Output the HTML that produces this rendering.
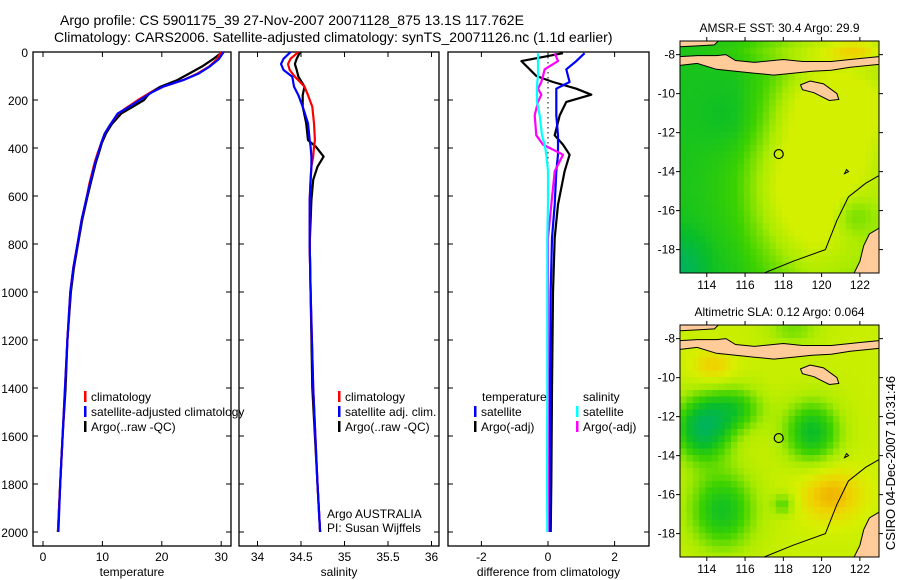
<!DOCTYPE html>
<html><head><meta charset="utf-8"><style>
body{margin:0;background:#fff;}
svg{display:block;font-family:"Liberation Sans",sans-serif;}
</style></head><body>
<svg id="fig" width="900" height="580" viewBox="0 0 900 580" xmlns="http://www.w3.org/2000/svg">
<rect width="900" height="580" fill="#fff"/>
<text x="60" y="25" font-size="14">Argo profile: CS 5901175_39 27-Nov-2007 20071128_875 13.1S 117.762E</text>
<text x="54" y="42" font-size="14">Climatology: CARS2006. Satellite-adjusted climatology: synTS_20071126.nc (1.1d earlier)</text>
<g id="p1"></g>
<g id="p2"></g>
<g id="p3"></g>
<g id="m1"></g>
<g id="m2"></g>
<text transform="translate(895,463) rotate(-90)" text-anchor="middle" font-size="13">CSIRO 04-Dec-2007 10:31:46</text>
</svg>
<script>
// ---- data ----
const tDepth = [0,30,60,90,117,144,170,200,230,256,300,339,380,422,460,500,550,600,700,800,900,1000,1200,1400,1600,1800,2000];
const tClim  = [30.0,29.3,28.0,26.0,23.6,20.3,18.0,16.0,14.2,12.7,11.4,10.4,9.8,9.2,8.7,8.3,7.8,7.4,6.5,5.8,5.1,4.6,4.1,3.7,3.3,2.9,2.5];
const tSat   = [30.4,29.6,28.1,26.2,23.6,20.2,18.2,16.3,14.4,12.6,11.4,10.4,9.8,9.3,8.8,8.4,7.9,7.4,6.5,5.8,5.1,4.6,4.1,3.7,3.3,2.9,2.6];
const tArgo  = [30.2,28.6,26.8,24.6,22.6,19.8,18.0,17.0,15.0,13.2,11.6,10.6,9.9,9.4,8.9,8.5,8.0,7.5,6.6,5.9,5.2,4.7,4.1,3.8,3.3,2.9,2.5];
const sDepth = [0,28,50,75,103,144,180,228,297,367,394,436,478,533,617,800,1000,1400,1800,2000];
const sClim  = [34.47,34.38,34.35,34.37,34.43,34.54,34.58,34.63,34.65,34.66,34.65,34.64,34.62,34.61,34.60,34.60,34.61,34.64,34.69,34.72];
const sSat   = [34.38,34.30,34.27,34.30,34.40,34.42,34.47,34.52,34.58,34.60,34.61,34.62,34.62,34.61,34.60,34.60,34.61,34.64,34.69,34.72];
const sArgo  = [34.49,34.45,34.43,34.45,34.47,34.54,34.52,34.52,34.56,34.58,34.67,34.76,34.69,34.64,34.62,34.60,34.61,34.63,34.69,34.72];
const dDepth = [5,38,72,100,125,153,178,208,264,347,386,428,497,636,775,1000,1400,1800,2000];
const dTArgo = [0.45,-0.8,-0.55,-0.35,0.15,0.85,1.3,0.55,0.35,0.2,0.45,0.65,0.5,0.3,0.2,0.15,0.12,0.1,0.08];
const dTSat  = [1.1,0.85,0.55,0.6,0.65,0.25,0.25,0.25,0.25,0.3,0.3,0.3,0.25,0.2,0.12,0.08,0.06,0.05,0.05];
const dSSat  = [-0.3,-0.3,-0.3,-0.3,-0.32,-0.33,-0.33,-0.33,-0.25,-0.18,-0.1,-0.05,0,0,-0.02,-0.02,-0.02,-0.03,-0.02];
const dSArgo = [0.2,0.3,-0.1,-0.15,-0.2,-0.3,-0.2,-0.3,-0.4,-0.35,-0.15,0.45,0.2,0.1,0.0,0.0,0.0,0.0,0.0];
const tTicks = [0,10,20,30];
const sTicks = [34,34.5,35,35.5,36];
const dTicks = [-2,0,2];
const depthTicks = [0,200,400,600,800,1000,1200,1400,1600,1800,2000];
const mapLonTicks = [114,116,118,120,122];
const mapLatTicks = [-8,-10,-12,-14,-16,-18];

const NS="http://www.w3.org/2000/svg";
function mk(tag,attrs,parent){const e=document.createElementNS(NS,tag);for(const k in attrs)e.setAttribute(k,attrs[k]);parent.appendChild(e);return e;}
const top0=52, bot=546, yD=d=>top0+d*0.24;

function panel(g,x0,x1,xs,ticks,label,showDepth,lbl){
  const r=mk('rect',{x:x0,y:top0,width:x1-x0,height:bot-top0,fill:'none',stroke:'#000','stroke-width':1.3},g);
  
  
  depthTicks.forEach(d=>{
    mk('line',{x1:x0,x2:x0+5,y1:yD(d),y2:yD(d),stroke:'#000'},g);
    mk('line',{x1:x1,x2:x1-5,y1:yD(d),y2:yD(d),stroke:'#000'},g);
    if(showDepth){const t=mk('text',{x:x0-5,y:yD(d)+5,'font-size':12,'text-anchor':'end'},g);t.textContent=d;
      
      }
  });
  ticks.forEach(v=>{
    const x=xs(v);
    mk('line',{x1:x,x2:x,y1:bot,y2:bot-5,stroke:'#000'},g);
    mk('line',{x1:x,x2:x,y1:top0,y2:top0+5,stroke:'#000'},g);
    const t=mk('text',{x:x,y:bot+15,'font-size':12,'text-anchor':'middle'},g);t.textContent=v;
    
    
  });
  const t=mk('text',{x:(x0+x1)/2,y:bot+30,'font-size':12,'text-anchor':'middle'},g);t.textContent=label;
  
  
}
function line(g,xs,depths,vals,color,name){
  const p=depths.map((d,i)=>xs(vals[i]).toFixed(1)+','+yD(d).toFixed(1)).join(' ');
  const l=mk('polyline',{points:p,fill:'none',stroke:color,'stroke-width':2.2,'stroke-linejoin':'round'},g);
  
  
}
function legend(g,x,y,color,txt){
  mk('rect',{x:x,y:y-10,width:2.5,height:11,fill:color},g);
  const t=mk('text',{x:x+7,y:y,'font-size':12},g);t.textContent=txt;
  
  
}
// Panel 1
const p1=document.getElementById('p1'), xT=v=>43+v*5.94;
panel(p1,33,231,xT,tTicks,'temperature',true,'x-axis-title-temperature');
line(p1,xT,tDepth,tArgo,'#000','argo-temperature-line');
line(p1,xT,tDepth,tClim,'#f00','climatology-temperature-line');
line(p1,xT,tDepth,tSat,'#00f','satellite-temperature-line');
legend(p1,84,401,'#f00','climatology');
legend(p1,84,416,'#00f','satellite-adjusted climatology');
legend(p1,84,431,'#000','Argo(..raw -QC)');
// Panel 2
const p2=document.getElementById('p2'), xS=v=>257.5+(v-34)*87;
panel(p2,239,439,xS,sTicks,'salinity',false,'x-axis-title-salinity');
line(p2,xS,sDepth,sArgo,'#000','argo-salinity-line');
line(p2,xS,sDepth,sClim,'#f00','climatology-salinity-line');
line(p2,xS,sDepth,sSat,'#00f','satellite-salinity-line');
legend(p2,338,401,'#f00','climatology');
legend(p2,338,416,'#00f','satellite adj. clim.');
legend(p2,338,431,'#000','Argo(..raw -QC)');
let t=mk('text',{x:327,y:518,'font-size':12},p2);t.textContent='Argo AUSTRALIA';


t=mk('text',{x:327,y:532,'font-size':12},p2);t.textContent='PI: Susan Wijffels';


// Panel 3
const p3=document.getElementById('p3'), xDf=v=>548+v*33.3;
panel(p3,448,649,xDf,dTicks,'difference from climatology',false,'x-axis-title-difference');
mk('line',{x1:548,x2:548,y1:yD(0),y2:yD(2000),stroke:'#000','stroke-dasharray':'1.5,3.5'},p3);
line(p3,xDf,dDepth,dTArgo,'#000','argo-temperature-diff-line');
line(p3,xDf,dDepth,dTSat,'#00f','satellite-temperature-diff-line');
line(p3,xDf,dDepth,dSArgo,'#f0f','argo-salinity-diff-line');
line(p3,xDf,dDepth,dSSat,'#0ff','satellite-salinity-diff-line');
t=mk('text',{x:482,y:401,'font-size':12},p3);t.textContent='temperature';


t=mk('text',{x:583,y:401,'font-size':12},p3);t.textContent='salinity';


legend(p3,474,416,'#00f','satellite');
legend(p3,474,431,'#000','Argo(-adj)');
legend(p3,576,416,'#0ff','satellite');
legend(p3,576,431,'#f0f','Argo(-adj)');

// ---- maps ----
const stops=[[0,[0,190,200]],[0.15,[0,180,90]],[0.3,[10,190,40]],[0.45,[60,210,0]],[0.6,[170,235,0]],[0.72,[215,240,0]],[0.82,[240,210,0]],[0.92,[240,160,0]],[1,[210,90,0]]];
function cmap(v){v=Math.max(0,Math.min(1,v));for(let i=1;i<stops.length;i++){if(v<=stops[i][0]){const a=stops[i-1],b=stops[i],f=(v-a[0])/(b[0]-a[0]);return 'rgb('+a[1].map((c,k)=>Math.round(c+(b[1][k]-c)*f)).join(',')+')';}}return 'rgb(210,90,0)';}
const gauss=(lon,lat,cx,cy,sx,sy)=>Math.exp(-((lon-cx)**2/(2*sx*sx)+(lat-cy)**2/(2*sy*sy)));
const clip01=v=>Math.max(0,Math.min(1,v));
function sst(lon,lat){let v=0.34+0.18*clip01((lon-115.5)/4);
  v+=0.32*gauss(lon,lat,119.3,-14.8,2.6,2.8);
  v+=0.24*gauss(lon,lat,121,-10.5,2,1.5);
  v-=0.06*gauss(lon,lat,115.3,-11.3,1.2,1.2); v-=0.2*gauss(lon,lat,112.6,-19,1,1.2);
  v-=0.16*gauss(lon,lat,121.6,-16.2,0.8,0.8);
  v=Math.min(v,0.71);
  v+=0.22*gauss(lon,lat,121.8,-7.8,1.2,0.5)+0.1*gauss(lon,lat,117.5,-7.8,2.5,0.5); return v;}
function sla(lon,lat){let v=0.68;
  v-=0.5*gauss(lon,lat,113.8,-12.6,1.0,1.1); v-=0.28*gauss(lon,lat,115.5,-11.6,1.0,0.8);
  v-=0.38*gauss(lon,lat,119.5,-12.8,1.0,1.1); v-=0.35*gauss(lon,lat,114.8,-16.8,1.2,1.4);
  v-=0.2*gauss(lon,lat,118,-16.5,0.4,0.4); v+=0.2*gauss(lon,lat,120.5,-16,1.2,1);
  v+=0.15*gauss(lon,lat,114.3,-9.4,0.8,0.6); v-=0.15*gauss(lon,lat,118.5,-7.5,1,0.6); return v;}
const java=[[112.6,-8.55],[113.5,-8.45],[114.5,-8.75],[115.5,-8.85],[116.5,-8.95],[117.5,-9.05],[118.5,-8.95],[119.5,-8.85],[120.5,-8.8],[121.5,-8.65],[123,-8.5],[123,-8.1],[122,-8.2],[120.5,-8.35],[119,-8.35],[118,-8.25],[116.5,-8.4],[115.5,-8.3],[115.0,-8.0],[114.5,-8.05],[113.5,-8.05],[112.6,-8.1]];
const topl=[[112.6,-7.3],[114.6,-7.3],[114.4,-7.5],[113.5,-7.55],[112.6,-7.6]];
const sumba=[[118.9,-9.55],[119.4,-9.35],[120.1,-9.5],[120.8,-10.0],[120.9,-10.3],[120.4,-10.35],[119.6,-9.95],[119.0,-9.8]];
const aus=[[123,-16.9],[122.5,-17.2],[122.2,-17.8],[122.0,-18.6],[121.7,-19.2],[123,-19.2]];
const shelf=[[117,-19.2],[118.5,-18.6],[120.2,-18],[120.8,-16.5],[121.4,-15.3],[122.3,-14.6],[123,-14.2]];
function drawMap(g,y0,title,field,tname){
  const x0=680,x1=879,h=232,lon0=112.6,lon1=123,lat0=-7.3,lat1=-19.2;
  const X=lon=>x0+(lon-lon0)/(lon1-lon0)*(x1-x0), Y=lat=>y0+(lat-lat0)/(lat1-lat0)*h;
  const id='clip'+y0; const cp=mk('clipPath',{id:id},g); mk('rect',{x:x0,y:y0,width:x1-x0,height:h},cp);
  const inner=mk('g',{'clip-path':'url(#'+id+')'},g);
  const step=1/3;
  for(let lon=lon0;lon<lon1;lon+=step)for(let lat=lat0;lat>lat1-step;lat-=step){
    mk('rect',{x:X(lon).toFixed(1),y:Y(lat).toFixed(1),width:(X(lon+step)-X(lon)+0.6).toFixed(1),height:(Y(lat-step)-Y(lat)+0.6).toFixed(1),fill:cmap(field(lon+step/2,lat-step/2))},inner);}
  [java,topl,sumba,aus].forEach(poly=>{const p=mk('polygon',{points:poly.map(q=>X(q[0]).toFixed(1)+','+Y(q[1]).toFixed(1)).join(' '),fill:'#fc9',stroke:'#000','stroke-width':1},inner);
    
    });
  mk('polyline',{points:shelf.map(q=>X(q[0]).toFixed(1)+','+Y(q[1]).toFixed(1)).join(' '),fill:'none',stroke:'#000','stroke-width':1},inner);
  mk('path',{d:`M${X(121.2)} ${Y(-14.1)} l2 -4 l2 2 z`,fill:'none',stroke:'#000'},inner);
  const c=mk('circle',{cx:X(117.76),cy:Y(-13.1),r:4.5,fill:'none',stroke:'#000','stroke-width':1.2},inner);
  
  
  mk('rect',{x:x0,y:y0,width:x1-x0,height:h,fill:'none',stroke:'#000','stroke-width':1},g);
  mapLonTicks.forEach(v=>{mk('line',{x1:X(v),x2:X(v),y1:y0+h,y2:y0+h+4,stroke:'#000'},g);mk('line',{x1:X(v),x2:X(v),y1:y0,y2:y0-4,stroke:'#000'},g);
    const tt=mk('text',{x:X(v),y:y0+h+16,'font-size':12,'text-anchor':'middle'},g);tt.textContent=v;
    
    });
  mapLatTicks.forEach(v=>{mk('line',{x1:x0,x2:x0-4,y1:Y(v),y2:Y(v),stroke:'#000'},g);mk('line',{x1:x1,x2:x1+4,y1:Y(v),y2:Y(v),stroke:'#000'},g);
    const tt=mk('text',{x:x0-5,y:Y(v)+4,'font-size':12,'text-anchor':'end'},g);tt.textContent=v;
    
    });
  const tt=mk('text',{x:(x0+x1)/2,y:y0-9,'font-size':12,'text-anchor':'middle'},g);tt.textContent=title;
  
  
}
drawMap(document.getElementById('m1'),41,'AMSR-E SST: 30.4  Argo: 29.9',sst,'sst-map-title');
drawMap(document.getElementById('m2'),325,'Altimetric SLA: 0.12  Argo: 0.064',sla,'sla-map-title');
</script>
</body></html>
